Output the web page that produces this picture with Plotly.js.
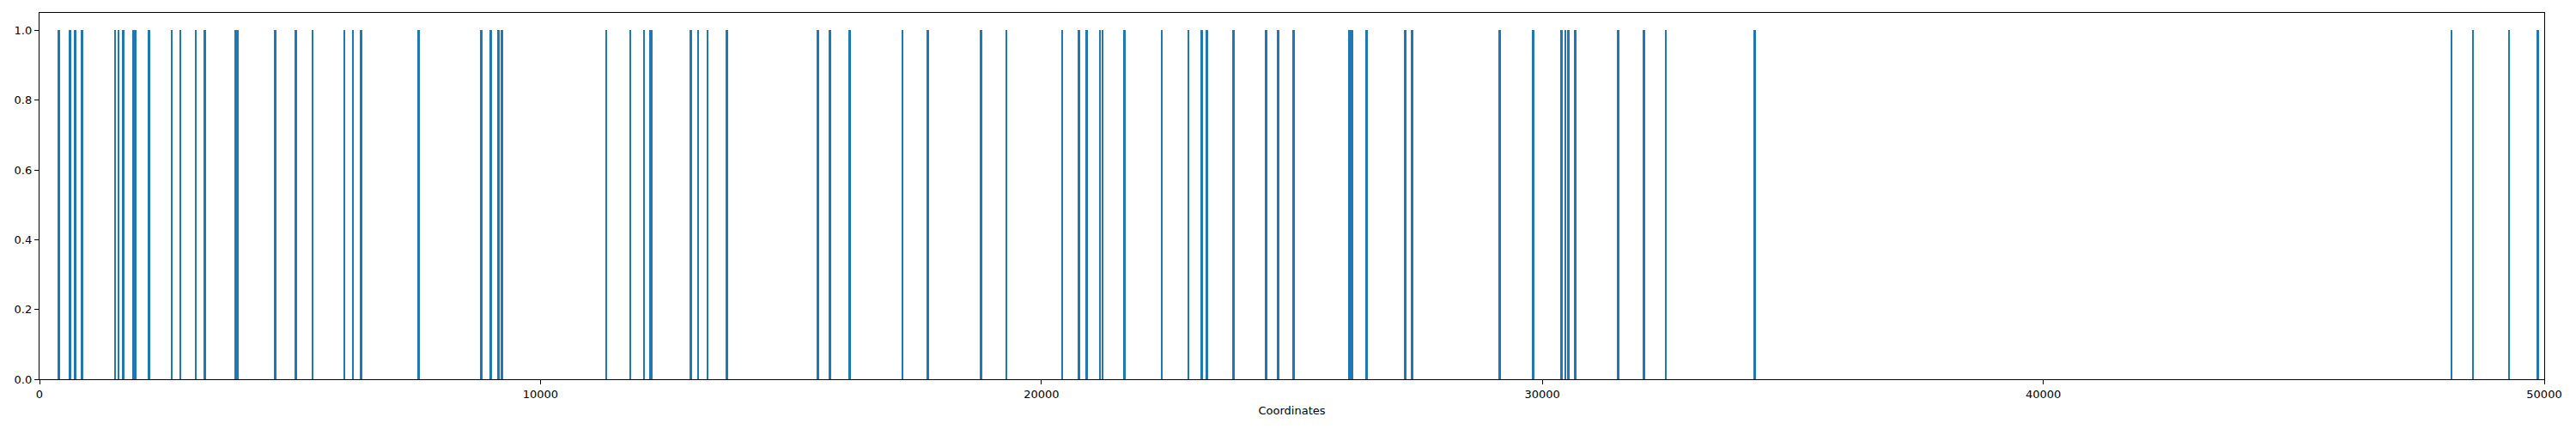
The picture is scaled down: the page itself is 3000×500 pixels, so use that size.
<!DOCTYPE html>
<html>
<head>
<meta charset="utf-8">
<script src="https://cdn.plot.ly/plotly-3.0.1.min.js"></script>
<style>
  html, body { margin: 0; padding: 0; background: #fff; }
  #chart { width: 3000px; height: 500px; }
</style>
</head>
<body>
<div id="chart"></div>
<script>
// Coordinates of each hit (all bars have height 1)
const coordinates = [
  383, 613, 711, 853, 1510, 1575, 1674, 1882, 1915, 2188,
  2637, 2812, 3118, 3304, 3917, 3950, 4705, 5120, 5448, 6083,
  6258, 6422, 7571, 8818, 9004, 9157, 9234, 11312, 11793, 12067,
  12187, 12220, 12997, 13150, 13336, 13719, 15535, 15775, 16169,
  17227, 17729, 18799, 19301, 20415, 20753, 20906, 21168, 21223, 21660,
  22402, 22937, 23199, 23308, 23832, 24487, 24727, 25033, 26146, 26201,
  26496, 27260, 27402, 29148, 29814, 30382, 30458, 30524, 30655, 31517,
  32031, 32467, 34234, 48151, 48578, 49300, 49869
];
const heights = coordinates.map(() => 1);

const xTicks = [0, 10000, 20000, 30000, 40000, 50000];
const yTicks = [0, 0.2, 0.4, 0.6, 0.8, 1.0];
const yTickText = ['0.0', '0.2', '0.4', '0.6', '0.8', '1.0'];

const trace = {
  type: 'bar',
  x: coordinates,
  y: heights,
  width: 45,
  marker: { color: '#1f77b4', line: { width: 0 } },
  hoverinfo: 'x'
};

const axisCommon = {
  showline: true, linecolor: '#000', linewidth: 1.2, mirror: true,
  ticks: 'outside', ticklen: 5, tickwidth: 1, tickcolor: '#000',
  showgrid: false, zeroline: false,
  tickfont: { family: 'DejaVu Sans', size: 13, color: '#000' }
};

const layout = {
  width: 3000, height: 500,
  paper_bgcolor: '#fff', plot_bgcolor: '#fff',
  margin: { l: 46, r: 37, t: 15, b: 58 },
  showlegend: false,
  bargap: 0,
  xaxis: {
    ...axisCommon,
    range: [0, 50000],
    tickvals: xTicks,
    ticktext: xTicks.map(String),
    title: { text: 'Coordinates', font: { family: 'DejaVu Sans', size: 13, color: '#000' }, standoff: 8 }
  },
  yaxis: {
    ...axisCommon,
    range: [0, 1.05],
    tickvals: yTicks,
    ticktext: yTickText
  }
};

Plotly.newPlot('chart', [trace], layout, { displayModeBar: false, staticPlot: true });
</script>
</body>
</html>
